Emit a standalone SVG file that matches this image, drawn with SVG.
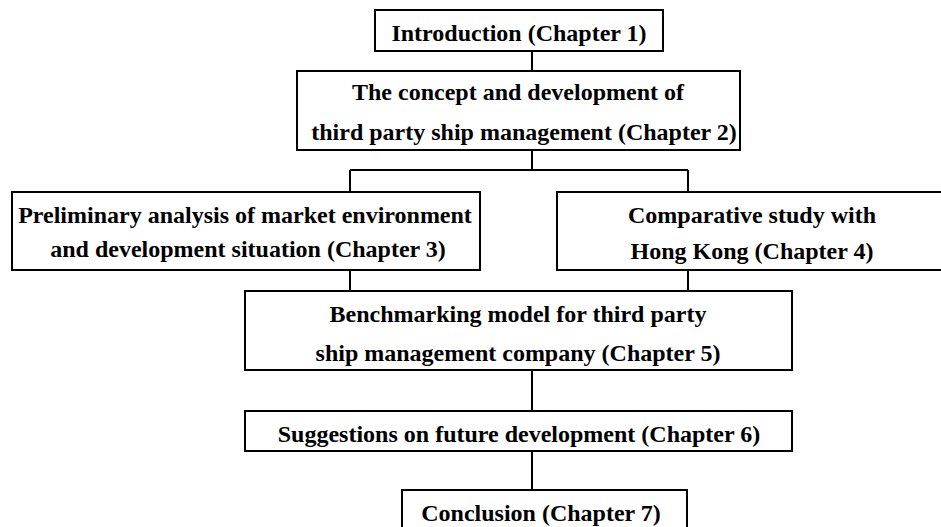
<svg xmlns="http://www.w3.org/2000/svg" width="941" height="527" viewBox="0 0 941 527">
<style>
.box{fill:#fff;stroke:#000;stroke-width:2}
.t{font-family:"Liberation Serif","Times New Roman",serif;font-weight:bold;font-size:24px;fill:#000;text-anchor:middle}
.c{fill:none;stroke:#000;stroke-width:2}
</style>
<rect width="941" height="527" fill="#fff"/>
<g id="connectors">
<path class="c" d="M532,51V71"/>
<path class="c" d="M532,150V170M350,170H688M350,170V192M688,170V192"/>
<path class="c" d="M350,270V291M688,270V291"/>
<path class="c" d="M532,370V411"/>
<path class="c" d="M532,451V490"/>
</g>
<g id="n1"><rect class="box" x="375" y="10" width="288" height="41"/><text class="t" x="519" y="41">Introduction (Chapter 1)</text></g>
<g id="n2"><rect class="box" x="297" y="71" width="443" height="79"/><text class="t" x="518" y="100">The concept and development of</text><text class="t" x="524" y="140">third party ship management (Chapter 2)</text></g>
<g id="n3"><rect class="box" x="12" y="192" width="468" height="78"/><text class="t" x="245" y="223">Preliminary analysis of market environment</text><text class="t" x="248" y="257">and development situation (Chapter 3)</text></g>
<g id="n4"><rect class="box" x="557" y="192" width="400" height="78"/><text class="t" x="752" y="223">Comparative study with</text><text class="t" x="752" y="259">Hong Kong (Chapter 4)</text></g>
<g id="n5"><rect class="box" x="245" y="291" width="547" height="79"/><text class="t" x="518" y="322">Benchmarking model for third party</text><text class="t" x="518" y="361">ship management company (Chapter 5)</text></g>
<g id="n6"><rect class="box" x="245" y="411" width="547" height="40"/><text class="t" x="519" y="442">Suggestions on future development (Chapter 6)</text></g>
<g id="n7"><rect class="box" x="402" y="490" width="285" height="50"/><text class="t" x="541" y="521">Conclusion (Chapter 7)</text></g>
</svg>
